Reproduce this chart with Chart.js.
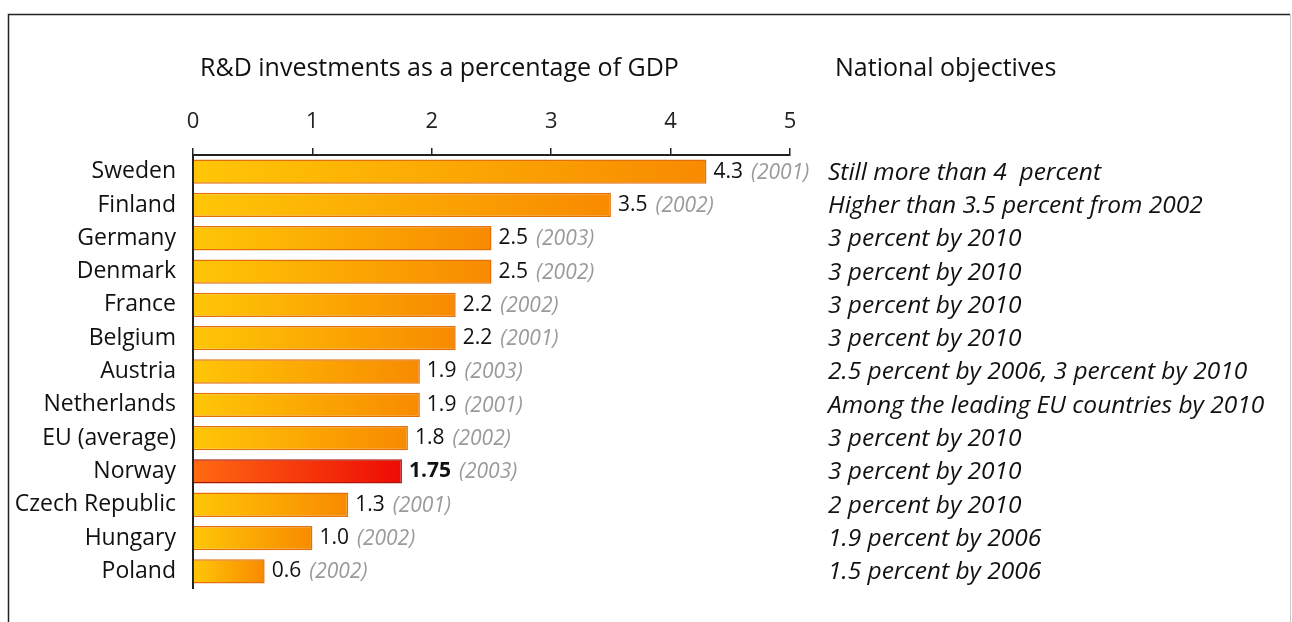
<!DOCTYPE html>
<html>
<head>
<meta charset="utf-8">
<script src="https://cdn.jsdelivr.net/npm/chart.js@4.4.1/dist/chart.umd.min.js"></script>
<style>
  html,body{margin:0;padding:0;background:#fff;}
  canvas{display:block;}
</style>
</head>
<body>
<canvas id="rd" width="1292" height="622"></canvas>
<script>
// data
const countries = ['Sweden','Finland','Germany','Denmark','France','Belgium','Austria','Netherlands','EU (average)','Norway','Czech Republic','Hungary','Poland'];
const rdShare = [4.3, 3.5, 2.5, 2.5, 2.2, 2.2, 1.9, 1.9, 1.8, 1.75, 1.3, 1.0, 0.6];
const valueText = ['4.3','3.5','2.5','2.5','2.2','2.2','1.9','1.9','1.8','1.75','1.3','1.0','0.6'];
const years = ['(2001)','(2002)','(2003)','(2002)','(2002)','(2001)','(2003)','(2001)','(2002)','(2003)','(2001)','(2002)','(2002)'];
const objectives = [
  'Still more than 4  percent',
  'Higher than 3.5 percent from 2002',
  '3 percent by 2010',
  '3 percent by 2010',
  '3 percent by 2010',
  '3 percent by 2010',
  '2.5 percent by 2006, 3 percent by 2010',
  'Among the leading EU countries by 2010',
  '3 percent by 2010',
  '3 percent by 2010',
  '2 percent by 2010',
  '1.9 percent by 2006',
  '1.5 percent by 2006'
];
const xTicks = [0, 1, 2, 3, 4, 5];
const highlight = 'Norway';

const FONT = '"Open Sans", "Noto Sans", sans-serif';

function barFill(ctx, border){
  const isHi = countries[ctx.dataIndex] === highlight;
  if (border) return isHi ? '#a81808' : '#e2700c';
  const chart = ctx.chart;
  const xs = chart.scales.x;
  const flat = isHi ? '#f53a0a' : '#fca800';
  if (!chart.chartArea || !xs || ctx.raw == null) return flat;
  const x0 = xs.getPixelForValue(0), x1 = xs.getPixelForValue(ctx.raw);
  if (!isFinite(x0) || !isFinite(x1)) return flat;
  const g = chart.ctx.createLinearGradient(x0, 0, Math.max(x1, x0 + 1), 0);
  if (isHi){
    g.addColorStop(0, '#ff6a12');
    g.addColorStop(1, '#ee0a04');
  } else {
    g.addColorStop(0, '#ffc606');
    g.addColorStop(1, '#f88a00');
  }
  return g;
}

const decorations = {
  id: 'decorations',
  afterDatasetsDraw(chart){
    const c = chart.ctx;
    const meta = chart.getDatasetMeta(0);
    c.save();
    c.textBaseline = 'middle';
    c.textAlign = 'left';
    meta.data.forEach((bar, i) => {
      const y = bar.y;
      let x = bar.x + 7;
      const bold = countries[i] === highlight;
      c.font = (bold ? 'bold ' : '') + '21px ' + FONT;
      c.fillStyle = '#111';
      c.fillText(valueText[i], x, y);
      x += c.measureText(valueText[i]).width + 8;
      c.font = 'italic 21px ' + FONT;
      c.fillStyle = '#9a9a9a';
      c.fillText(years[i], x, y + 1);
      c.font = 'italic 24.5px ' + FONT;
      c.fillStyle = '#111';
      c.fillText(objectives[i], 828, y + 1);
    });
    // headings
    c.font = '25px ' + FONT;
    c.fillStyle = '#111';
    c.fillText('R&D investments as a percentage of GDP', 200, 69);
    c.fillText('National objectives', 835, 69);
    // frame
    c.lineWidth = 1.5;
    c.strokeStyle = '#222';
    c.beginPath();
    c.moveTo(8.5, 640);
    c.lineTo(8.5, 14.5);
    c.lineTo(1290, 14.5);
    c.stroke();
    c.strokeStyle = '#c8c8c8';
    c.lineWidth = 1;
    c.beginPath();
    c.moveTo(1290.5, 14.5);
    c.lineTo(1290.5, 640);
    c.stroke();
    c.restore();
  }
};

new Chart(document.getElementById('rd').getContext('2d'), {
  type: 'bar',
  data: {
    labels: countries,
    datasets: [{
      data: rdShare,
      backgroundColor: ctx => barFill(ctx, false),
      borderColor: ctx => barFill(ctx, true),
      borderWidth: 1.5,
      borderSkipped: 'left',
      barPercentage: 0.73,
      categoryPercentage: 1
    }]
  },
  options: {
    indexAxis: 'y',
    responsive: false,
    animation: false,
    layout: {padding: {top: 0, right: 502, bottom: 34, left: 0}},
    plugins: {legend: {display: false}, tooltip: {enabled: false}},
    scales: {
      x: {
        position: 'top',
        min: 0, max: 5,
        afterBuildTicks: s => { s.ticks = xTicks.map(v => ({value: v})); },
        afterFit: s => { s.height = 155; },
        grid: {drawOnChartArea: false, drawTicks: true, tickLength: 7, color: '#222', lineWidth: 1.5},
        border: {display: true, color: '#222', width: 2},
        ticks: {padding: 13, color: '#222', font: {family: FONT, size: 22}}
      },
      y: {
        afterFit: s => { s.width = 193; },
        grid: {display: false, drawTicks: false},
        border: {display: true, color: '#222', width: 2},
        ticks: {padding: 17, color: '#111', font: {family: FONT, size: 23}}
      }
    }
  },
  plugins: [decorations]
});
</script>
</body>
</html>
